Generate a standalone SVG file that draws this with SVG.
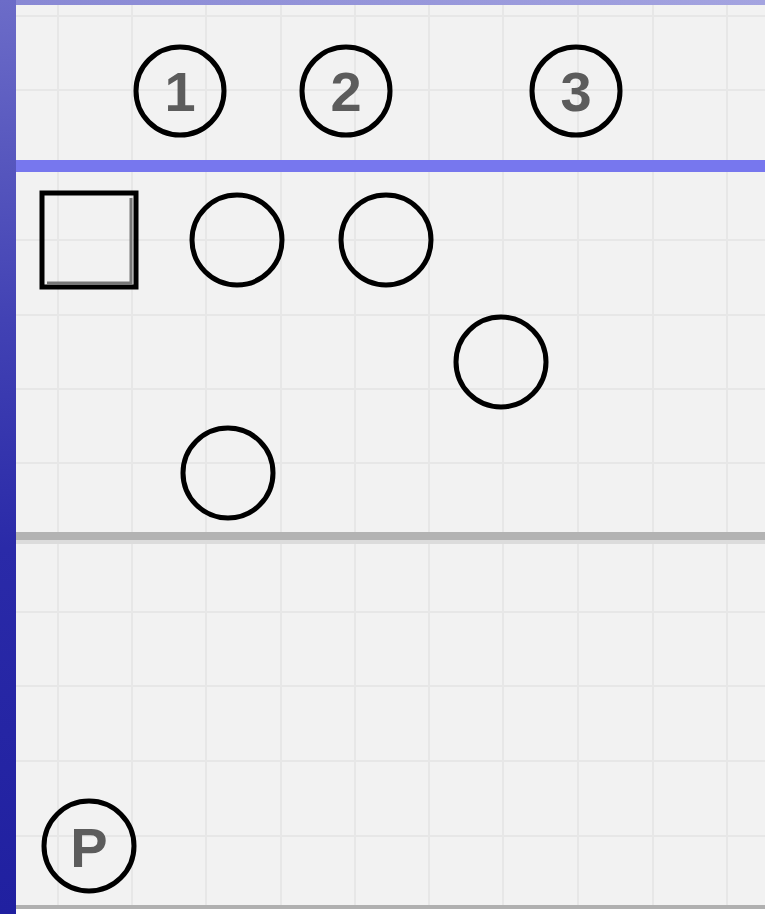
<svg xmlns="http://www.w3.org/2000/svg" width="765" height="914" viewBox="0 0 765 914">
<defs>
<linearGradient id="side" x1="0" y1="0" x2="0" y2="1">
<stop offset="0" stop-color="#6c6cc8"/>
<stop offset="0.35" stop-color="#4242b4"/>
<stop offset="0.6" stop-color="#2a2aa8"/>
<stop offset="1" stop-color="#2020a0"/>
</linearGradient>
<linearGradient id="topband" x1="0" y1="0" x2="1" y2="0">
<stop offset="0" stop-color="#8888d4"/>
<stop offset="1" stop-color="#a4a4e0"/>
</linearGradient>
</defs>
<style>
.grid line{stroke:#e7e7e7;stroke-width:2}
.node circle,.node rect{fill:none;stroke:#000;stroke-width:5}
.node text{font-family:"Liberation Sans",Arial,sans-serif;font-weight:bold;font-size:56px;fill:#5c5c5c;text-anchor:middle}
</style>
<rect x="0" y="0" width="765" height="914" fill="#f2f2f2"/>
<rect x="0" y="909" width="765" height="5" fill="#ffffff"/>
<g class="grid">
<line x1="58" y1="5" x2="58" y2="905"/>
<line x1="132" y1="5" x2="132" y2="905"/>
<line x1="206" y1="5" x2="206" y2="905"/>
<line x1="281" y1="5" x2="281" y2="905"/>
<line x1="355" y1="5" x2="355" y2="905"/>
<line x1="429" y1="5" x2="429" y2="905"/>
<line x1="503" y1="5" x2="503" y2="905"/>
<line x1="578" y1="5" x2="578" y2="905"/>
<line x1="653" y1="5" x2="653" y2="905"/>
<line x1="727" y1="5" x2="727" y2="905"/>
<line x1="16" y1="16" x2="765" y2="16"/>
<line x1="16" y1="90" x2="765" y2="90"/>
<line x1="16" y1="240" x2="765" y2="240"/>
<line x1="16" y1="315" x2="765" y2="315"/>
<line x1="16" y1="389" x2="765" y2="389"/>
<line x1="16" y1="463" x2="765" y2="463"/>
<line x1="16" y1="612" x2="765" y2="612"/>
<line x1="16" y1="686" x2="765" y2="686"/>
<line x1="16" y1="761" x2="765" y2="761"/>
<line x1="16" y1="836" x2="765" y2="836"/>
</g>
<rect x="0" y="0" width="765" height="5" fill="url(#topband)"/>
<rect x="0" y="0" width="16" height="914" fill="url(#side)"/>
<rect x="16" y="160" width="749" height="12" fill="#7777ee"/>
<rect x="16" y="532" width="749" height="8" fill="#b3b3b3"/>
<rect x="16" y="540" width="749" height="4" fill="#dcdcdc"/>
<rect x="16" y="905" width="749" height="4" fill="#b0b0b0"/>
<g id="label1" class="node"><circle cx="180" cy="91" r="44"/><text x="180" y="111">1</text></g>
<g id="label2" class="node"><circle cx="346" cy="91" r="44"/><text x="346" y="111">2</text></g>
<g id="label3" class="node"><circle cx="576" cy="91" r="44"/><text x="576" y="111">3</text></g>
<g id="square" class="node"><rect x="42" y="193" width="94" height="94"/><path d="M47 283H131V198" fill="none" stroke="#777" stroke-width="3"/></g>
<g id="circleA" class="node"><circle cx="237" cy="240" r="45"/></g>
<g id="circleB" class="node"><circle cx="386" cy="240" r="45"/></g>
<g id="circleC" class="node"><circle cx="501" cy="362" r="45"/></g>
<g id="circleD" class="node"><circle cx="228" cy="473" r="45"/></g>
<g id="labelP" class="node"><circle cx="89" cy="846" r="45"/><text x="89" y="867">P</text></g>
<g id="connectors"></g>
</svg>
